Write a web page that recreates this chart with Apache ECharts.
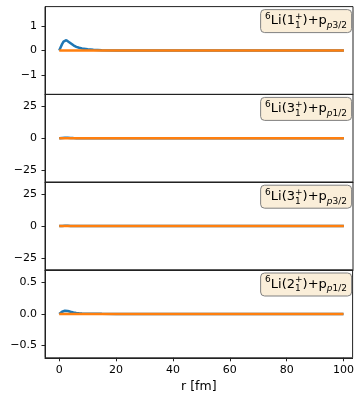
<!DOCTYPE html>
<html>
<head>
<meta charset="utf-8">
<script src="https://cdn.jsdelivr.net/npm/echarts@6/dist/echarts.min.js"></script>
<style>html,body{margin:0;padding:0;background:#fff;}#c{width:357px;height:396px;}</style>
</head>
<body>
<div id="c"></div>
<script>
const r      = [0,0.5,1,1.5,2,2.5,3,3.5,4,5,6,7,8,10,12,15,20,25,30,40,50,60,70,80,90,100];
const blue1  = [0,0.13,0.26,0.36,0.42,0.42,0.39,0.34,0.29,0.21,0.15,0.11,0.08,0.05,0.03,0.015,0.005,0.002,0.001,0,0,0,0,0,0,0];
const blue2  = [0,0.15,0.3,0.4,0.45,0.43,0.38,0.3,0.25,0.18,0.12,0.09,0.06,0.035,0.02,0.01,0.005,0,0,0,0,0,0,0,0,0];
const blue3  = [0,0.08,0.15,0.2,0.23,0.22,0.19,0.15,0.12,0.09,0.06,0.045,0.03,0.018,0.01,0.005,0.002,0,0,0,0,0,0,0,0,0];
const blue4  = [0,0.02,0.035,0.045,0.05,0.05,0.045,0.04,0.033,0.022,0.015,0.01,0.007,0.004,0.002,0.001,0,0,0,0,0,0,0,0,0,0];
const orange = [0,0,0,0,0,0,0,0,0,0,0,0,0,0,0,0,0,0,0,0,0,0,0,0,0,0];
const blues = [blue1, blue2, blue3, blue4];
const yLimits = [1.79, 34, 34, 0.695];
const yTicks = [[-1,0,1],[-25,0,25],[-25,0,25],[-0.5,0,0.5]];
const xTicks = [0,20,40,60,80,100];
const labels = [
  '{sup|6}{n|Li(1}{sub0|1}{sup|+}{n|)+p}{subi|p}{sub|3/2}',
  '{sup|6}{n|Li(3}{sub0|1}{sup|+}{n|)+p}{subi|p}{sub|1/2}',
  '{sup|6}{n|Li(3}{sub0|1}{sup|+}{n|)+p}{subi|p}{sub|3/2}',
  '{sup|6}{n|Li(2}{sub0|1}{sup|+}{n|)+p}{subi|p}{sub|1/2}'
];

const FONT = 'DejaVu Sans';
const panelTop = 6.6, panelH = 87.8;
const grids = [], xAxes = [], yAxes = [], series = [], titles = [];
for (let i = 0; i < 4; i++) {
  grids.push({left: 45, right: 4, top: panelTop + i*panelH, height: panelH,
    show: true, borderColor: '#222', borderWidth: 1, backgroundColor: 'transparent'});
  const last = i === 3;
  xAxes.push({type: 'value', gridIndex: i, min: -5, max: 103.2,
    axisLine: {show: true, onZero: false, lineStyle: {color: '#222', width: 1}},
    axisTick: {show: last, length: 3.5, customValues: xTicks, lineStyle: {color: '#222'}},
    axisLabel: {show: last, customValues: xTicks, margin: 7, fontSize: 11, fontFamily: FONT, color: '#000'},
    splitLine: {show: false},
    name: last ? 'r [fm]' : '', nameLocation: 'middle', nameGap: 22,
    nameTextStyle: {fontSize: 12.5, fontFamily: FONT, color: '#000'}});
  const fmt = i === 3 ? (v => v.toFixed(1).replace('-', '\u2212')) : (v => String(v).replace('-', '\u2212'));
  yAxes.push({type: 'value', gridIndex: i, min: -yLimits[i], max: yLimits[i],
    axisLine: {show: true, onZero: false, lineStyle: {color: '#222', width: 1}},
    axisTick: {show: true, length: 3.5, customValues: yTicks[i], lineStyle: {color: '#222'}},
    axisLabel: {customValues: yTicks[i], margin: 8, fontSize: 11, fontFamily: FONT, color: '#000', formatter: fmt},
    splitLine: {show: false}});
  series.push({type: 'line', xAxisIndex: i, yAxisIndex: i, showSymbol: false,
    data: r.map((x, k) => [x, blues[i][k]]), lineStyle: {color: '#1f77b4', width: 2.5}, itemStyle: {color: '#1f77b4'}});
  series.push({type: 'line', xAxisIndex: i, yAxisIndex: i, showSymbol: false,
    data: r.map((x, k) => [x, orange[k]]), lineStyle: {color: '#ff7f0e', width: 2.5}, itemStyle: {color: '#ff7f0e'}});
  titles.push({text: labels[i], right: 5, top: panelTop + i*panelH + 2.5,
    padding: [3, 5, 3, 5], backgroundColor: '#faeed9', borderColor: '#808080', borderWidth: 1, borderRadius: 4,
    textStyle: {fontFamily: FONT, fontWeight: 'normal', rich: {
      n: {fontSize: 13, fontFamily: FONT, color: '#000', lineHeight: 18, verticalAlign: 'middle'},
      sup: {fontSize: 9, fontFamily: FONT, color: '#000', lineHeight: 9, verticalAlign: 'top'},
      sub0: {fontSize: 9, fontFamily: FONT, color: '#000', lineHeight: 9, verticalAlign: 'bottom', width: 0.01},
      subi: {fontSize: 9, fontFamily: FONT, color: '#000', lineHeight: 9, verticalAlign: 'bottom', fontStyle: 'italic'},
      sub: {fontSize: 9, fontFamily: FONT, color: '#000', lineHeight: 9, verticalAlign: 'bottom'}
    }}});
}
const chart = echarts.init(document.getElementById('c'), null, {renderer: 'canvas'});
chart.setOption({animation: false, backgroundColor: '#fff', title: titles, grid: grids, xAxis: xAxes, yAxis: yAxes, series: series});
</script>
</body>
</html>
